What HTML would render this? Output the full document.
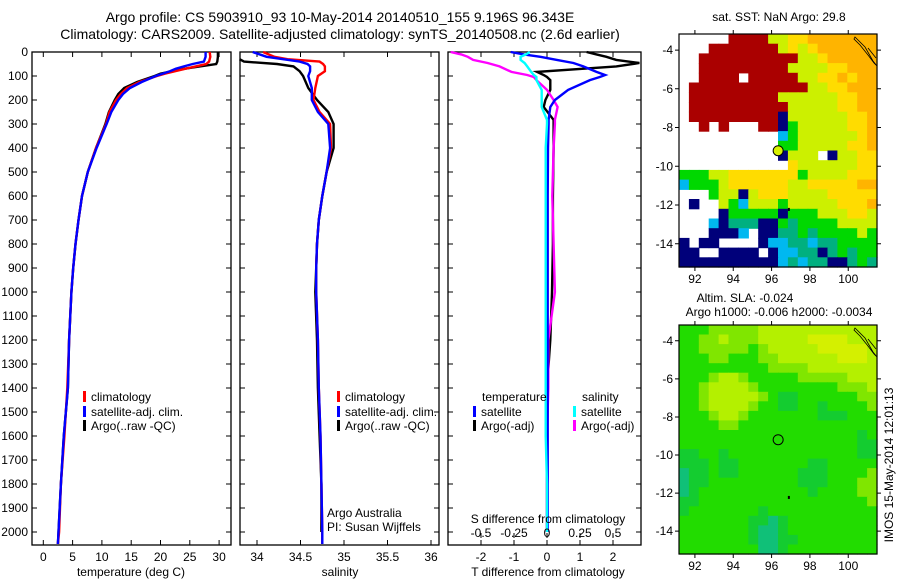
<!DOCTYPE html>
<html><head><meta charset="utf-8"><style>
html,body{margin:0;padding:0;background:#fff;}
svg{display:block;font-family:"Liberation Sans",sans-serif;}
</style></head><body>
<svg id="fig" width="900" height="580" viewBox="0 0 900 580">
<text x="340" y="22" font-size="14" text-anchor="middle">Argo profile: CS 5903910_93 10-May-2014 20140510_155 9.196S 96.343E</text>
<text x="340" y="39" font-size="14" text-anchor="middle">Climatology: CARS2009. Satellite-adjusted climatology: synTS_20140508.nc (2.6d earlier)</text>
<g id="g1"></g>
<g id="g2"></g>
<g id="g3"></g>
<g id="m1"></g>
<g id="m2"></g>
<text x="779" y="21" font-size="12" text-anchor="middle">sat. SST: NaN Argo: 29.8</text>
<text x="745" y="302" font-size="12" text-anchor="middle">Altim. SLA: -0.024</text>
<text x="779" y="316" font-size="12" text-anchor="middle">Argo h1000: -0.006 h2000: -0.0034</text>
<text transform="translate(893,465) rotate(-90)" font-size="12" text-anchor="middle">IMOS 15-May-2014 12:01:13</text>
</svg>
<script>
// ---- data ----
const depthT = [0,20,40,50,60,70,80,90,100,125,150,175,200,250,300,400,500,600,700,800,900,1000,1200,1400,1600,1800,2000,2050];
const tempClim = [28.4,28.5,28.3,27.8,26.0,24.2,22.5,20.8,19.4,16.4,14.3,13.2,12.4,11.3,10.7,9.0,7.6,6.6,6.0,5.5,5.1,4.8,4.4,4.1,3.6,3.0,2.7,2.5];
const tempSat  = [27.7,27.7,27.4,25.5,24.0,22.6,21.6,20.4,19.2,16.8,14.8,13.6,12.8,11.6,10.8,9.1,7.6,6.6,6.0,5.5,5.1,4.8,4.4,4.2,3.5,3.0,2.6,2.5];
const tempArgo = [29.8,29.8,29.7,29.5,26.7,24.0,22.0,20.0,19.0,16.0,13.8,12.8,12.2,11.2,10.6,9.0,7.6,6.6,6.0,5.5,5.1,4.8,4.4,4.2,3.5,3.0,2.6,2.5];
const depthS = [0,20,30,40,50,60,80,100,150,200,250,300,400,500,600,700,800,900,1000,1200,1400,1600,1800,2000,2050];
const salClim = [34.07,34.2,34.35,34.72,34.76,34.78,34.78,34.70,34.67,34.65,34.72,34.84,34.85,34.80,34.75,34.71,34.69,34.68,34.68,34.70,34.71,34.73,34.74,34.75,34.75];
const salSat  = [33.95,34.11,34.30,34.49,34.58,34.61,34.61,34.59,34.63,34.63,34.70,34.82,34.84,34.80,34.75,34.71,34.69,34.68,34.68,34.70,34.71,34.73,34.74,34.75,34.75];
const salArgo = [null,null,33.80,33.85,34.23,34.42,34.49,34.53,34.59,34.69,34.82,34.88,34.88,34.80,34.75,34.71,34.69,34.68,34.67,34.69,34.70,34.72,34.74,34.74,null];
const depthD = [0,10,20,33,46,60,83,96,104,117,158,200,229,283,300,400,600,800,1000,1200,1400,1600,1800,2000];
const dTSat  = [-1.1,-0.7,-0.2,0.3,0.8,1.1,1.5,1.76,1.6,1.3,0.64,0.24,0.1,0.05,0.05,0.03,0.02,0.02,0.02,0.02,0.02,0.02,0.02,0.02];
const dTArgo = [1.2,1.5,1.8,2.1,2.8,2.1,-0.3,-0.1,0,0.1,0.1,-0.05,-0.1,0.2,0.2,0.2,0.18,0.18,0.15,0.1,0.0,0.0,0.0,0.0];
const dSSat  = [-0.13,-0.16,-0.2,-0.2,-0.17,-0.15,-0.12,-0.1,-0.08,-0.08,-0.04,-0.04,-0.04,0,0,-0.01,-0.01,-0.01,-0.01,-0.01,-0.01,-0.01,0,0];
const dSArgo = [-0.73,-0.65,-0.6,-0.56,-0.45,-0.36,-0.27,-0.15,-0.1,-0.08,0,0.05,0.08,0.06,0.06,0.05,0.04,0.05,0.06,0.01,0.01,0,0,0];
const depthTicks = [0,100,200,300,400,500,600,700,800,900,1000,1100,1200,1300,1400,1500,1600,1700,1800,1900,2000];
const tempTicks = [0,5,10,15,20,25,30];
const salTicks = [34,34.5,35,35.5,36];
const dTTicks = [-2,-1,0,1,2];
const dSTicks = [-0.5,-0.25,0,0.25,0.5];
const lonTicks = [92,94,96,98,100];
const latTicks = [-4,-6,-8,-10,-12,-14];
const sstGrid = [
".....RRRRLLYYOOOOOOO","...RRRRRRRLYLYOOOOOO","..RRRRRRRRRRLLYOOOOO","..RRRRRRRRRLLLLYYOOO",
"..RRRR.RRRRRLLYYOYOO",".RRRRRRRRRRRRLLYYOOO",".RRRRRRRRRLLLLLLYYOO",".RRRRRRRRRRLLLLLYYOO",
".RRRRRRRRRNLLLLLLYYO","..R.R...RRNGLLLLLYYO","..........CGLLLLLLYO","..........GGLLLLLYYO",
"..........NLLL.NLLYY","...........YLLLLLLYY","GGGLLYYYYYYYGLLLLYYY","CGGGLYYYYYYLLYYYYYOO",
"...GLLNLYYYLLLLYYYYY",".N..LGCLLLGLLLLLYYYO","....NGGGGGNGGGLLLYYL","...CNTTTNNGTGGGGLLLL",
"...NNNC.NNTTGTGGGGLG","N.NN....NCCTTCTTGGGG","NN..NNNN.NCCTTNTGTGG","NNNNNNNNNNCTCTTNNTGT"];
const slaGrid = [
"GGGlllllYYYYYYYYYYYY","GGllYlllYYYYYyyyyYYY","GGlllllGlYYYYYyyyyyY","GGGllGGGllYYYYYYyyyY",
"GGGGGGGGGllllYYYYYYY","GGGlYYlGGGGGlllllYYY","GGlYYYYlGGGGGGGGlllY","GGlYYYYYlGggGGGGGGll",
"GGlYYYYlGGggGGgGGGGl","GGGlYYlGGGGGGGgggGGG","GGGGllGGGGGGGGGGGGGG","GGGGGGGGGGGGGGGGGGgG",
"GGGGGGGGGGGGGGGGGGgg","ggGGgGGGGGGGGGGGGGgg","gggGggGGGGGGGggGGGGG","tggGggGGGGGGgggGGGGl",
"tggGGGGGGGGGgggGGGll","tgGGGGGGGGGGGgGGGGll","ggGGGGGGGGGGGGGGGGGl","gGGGGGGGgGGGGGGGGGGG",
"GGGGGGGggtgGGGGGGGGG","GGGGGGGgttgGGGGGGGGG","GGGGGGGgttggGGGGGGGG","GGGGGGGGttgGGGGGGGGG"];
const argoLon = 96.343, argoLat = -9.196;

const NS='http://www.w3.org/2000/svg';
function mk(tag, attrs, parent){const e=document.createElementNS(NS,tag);for(const k in attrs)e.setAttribute(k,attrs[k]);parent.appendChild(e);return e;}
const yTop=52, yBot=545;
const yD = d => yTop + d*0.24;

function panel(g, x0, x1, xs, ticks){
  const r=mk('rect',{x:x0,y:yTop,width:x1-x0,height:yBot-yTop,fill:'none',stroke:'#000','stroke-width':1.3},g);
  
  
  depthTicks.forEach(d=>{
    const t=mk('path',{d:`M${x0},${yD(d)}h5M${x1},${yD(d)}h-5`,stroke:'#000','stroke-width':1},g);
    
    
  });
  ticks.forEach(v=>{
    const x=xs(v);
    const t=mk('path',{d:`M${x},${yTop}v5M${x},${yBot}v-5`,stroke:'#000','stroke-width':1},g);
    
    
    const l=mk('text',{x:x,y:yBot+16,'font-size':12,'text-anchor':'middle'},g);
    l.textContent=v;
    
    
  });
}
function line(g, xs, depths, vals, color, name){
  let d='', pen=false;
  vals.forEach((v,i)=>{ if(v===null){pen=false;return;} d+=(pen?'L':'M')+xs(v).toFixed(1)+','+yD(depths[i]).toFixed(1); pen=true; });
  const p=mk('path',{d:d,fill:'none',stroke:color,'stroke-width':2.4},g);
  
  
}
function txt(g,x,y,s,name,size,anchor){
  const t=mk('text',{x:x,y:y,'font-size':size||12,'text-anchor':anchor||'start'},g);
  t.textContent=s;
  
  
  return t;
}
function legend(g,x,y,color,label,name){
  const m=mk('rect',{x:x,y:y-10,width:3,height:11,fill:color},g);
  
  
  txt(g,x+8,y,label,name+'-label');
}

const fig=document.getElementById('fig');
depthTicks.forEach(d=>{ txt(fig,28,yD(d)+4,String(d),'depth-tick-label',12,'end'); });

// Panel 1 temperature
const g1=document.getElementById('g1');
const xT = v => 43.3 + v*5.86;
panel(g1,32,231,xT,tempTicks);
line(g1,xT,depthT,tempArgo,'#000','argo-temperature-line');
line(g1,xT,depthT,tempClim,'#f00','clim-temperature-line');
line(g1,xT,depthT,tempSat,'#00f','sat-temperature-line');
legend(g1,83,401,'#f00','climatology','legend-climatology');
legend(g1,83,416,'#00f','satellite-adj. clim.','legend-satellite');
legend(g1,83,430,'#000','Argo(..raw -QC)','legend-argo');
txt(g1,131,576,'temperature (deg C)','x-axis-title-temperature',12,'middle');

// Panel 2 salinity
const g2=document.getElementById('g2');
const xS = v => 257 + (v-34)*87;
panel(g2,240,439,xS,salTicks);
line(g2,xS,depthS,salArgo,'#000','argo-salinity-line');
line(g2,xS,depthS,salClim,'#f00','clim-salinity-line');
line(g2,xS,depthS,salSat,'#00f','sat-salinity-line');
legend(g2,337,401,'#f00','climatology','legend-climatology-s');
legend(g2,337,416,'#00f','satellite-adj. clim.','legend-satellite-s');
legend(g2,337,430,'#000','Argo(..raw -QC)','legend-argo-s');
txt(g2,327,517,'Argo Australia','credit-argo-australia');
txt(g2,327,531,'PI: Susan Wijffels','credit-pi');
txt(g2,340,576,'salinity','x-axis-title-salinity',12,'middle');

// Panel 3 differences
const g3=document.getElementById('g3');
const xDT = v => 547 + v*33;
const xDS = v => 547 + v*132;
panel(g3,448,641,xDT,dTTicks);
line(g3,xDT,depthD,dTArgo,'#000','argo-t-diff-line');
line(g3,xDS,depthD,dSArgo,'#f0f','argo-s-diff-line');
line(g3,xDT,depthD,dTSat,'#00f','sat-t-diff-line');
line(g3,xDS,depthD,dSSat,'#0ff','sat-s-diff-line');
dSTicks.forEach(v=>{
  const t=mk('path',{d:`M${xDS(v)},${yBot-12}v5`,stroke:'#000','stroke-width':1},g3);
  
  
  txt(g3,xDS(v),537,String(v),'s-tick-label',12,'middle');
});
txt(g3,548,523,'S difference from climatology','s-axis-title',12,'middle');
txt(g3,548,576,'T difference from climatology','t-axis-title',12,'middle');
txt(g3,482,401,'temperature','legend-temperature-header');
txt(g3,582,401,'salinity','legend-salinity-header');
legend(g3,473,416,'#00f','satellite','legend-t-satellite');
legend(g3,473,430,'#000','Argo(-adj)','legend-t-argo');
legend(g3,573,416,'#0ff','satellite','legend-s-satellite');
legend(g3,573,430,'#f0f','Argo(-adj)','legend-s-argo');

// Maps
const sstColors = {R:'#aa0000',O:'#ffb400',Y:'#ffdc00',L:'#ccf000',G:'#00d800',T:'#00b080',C:'#00b8f0',N:'#00007a'};
const slaColors = {G:'#22dc00',g:'#14cc30',l:'#80e600',Y:'#b4f000',y:'#d4f000',t:'#10c078'};
function drawMap(g, y0, y1, lat0, lat1, grid, pal, filled){
  const x0=679,x1=877, lon0=91.17, lon1=101.5;
  const xm = lon => x0 + (lon-lon0)/(lon1-lon0)*(x1-x0);
  const ym = lat => y0 + (lat0-lat)/(lat0-lat1)*(y1-y0);
  const rows=grid.length, cols=grid[0].length;
  const cw=(x1-x0)/cols, ch=(y1-y0)/rows;
  grid.forEach((row,r)=>{ for(let c=0;c<cols;c++){ const k=row[c]; if(k==='.')continue;
    const e=mk('rect',{x:(x0+c*cw).toFixed(1),y:(y0+r*ch).toFixed(1),width:(cw+0.6).toFixed(1),height:(ch+0.6).toFixed(1),fill:pal[k]},g);
    
    
  }});
  const f=mk('rect',{x:x0,y:y0,width:x1-x0,height:y1-y0,fill:'none',stroke:'#000','stroke-width':1.2},g);
  
  
  const coast=mk('path',{d:`M${x1-22},${y0+3}l10,10l8,14l4,5l-3,-3l-6,-8l-8,-10l-6,-6zM${x1-9},${y0+14}l8,10`,fill:'none',stroke:'#000','stroke-width':0.8},g);
  
  
  lonTicks.forEach(v=>{
    const t=mk('path',{d:`M${xm(v)},${y0}v-4M${xm(v)},${y1}v4`,stroke:'#000'},g);
    
    
    txt(g,xm(v),y1+16,String(v),'lon-tick-label',12,'middle');
  });
  latTicks.forEach(v=>{
    const t=mk('path',{d:`M${x0},${ym(v)}h-4M${x1},${ym(v)}h4`,stroke:'#000'},g);
    
    
    txt(g,673,ym(v)+4,String(v),'lat-tick-label',12,'end');
  });
  const c=mk('circle',{cx:xm(argoLon),cy:ym(argoLat),r:5,fill:filled?'#d8f000':'none',stroke:'#000','stroke-width':1},g);
  
  
  const dot=mk('rect',{x:xm(96.85),y:ym(-12.15),width:2,height:3,fill:'#000'},g);
  
  
}
drawMap(document.getElementById('m1'),34,267,-3.17,-15.2,sstGrid,sstColors,true);
drawMap(document.getElementById('m2'),325,554,-3.17,-15.2,slaGrid,slaColors,false);
</script>
</body></html>
